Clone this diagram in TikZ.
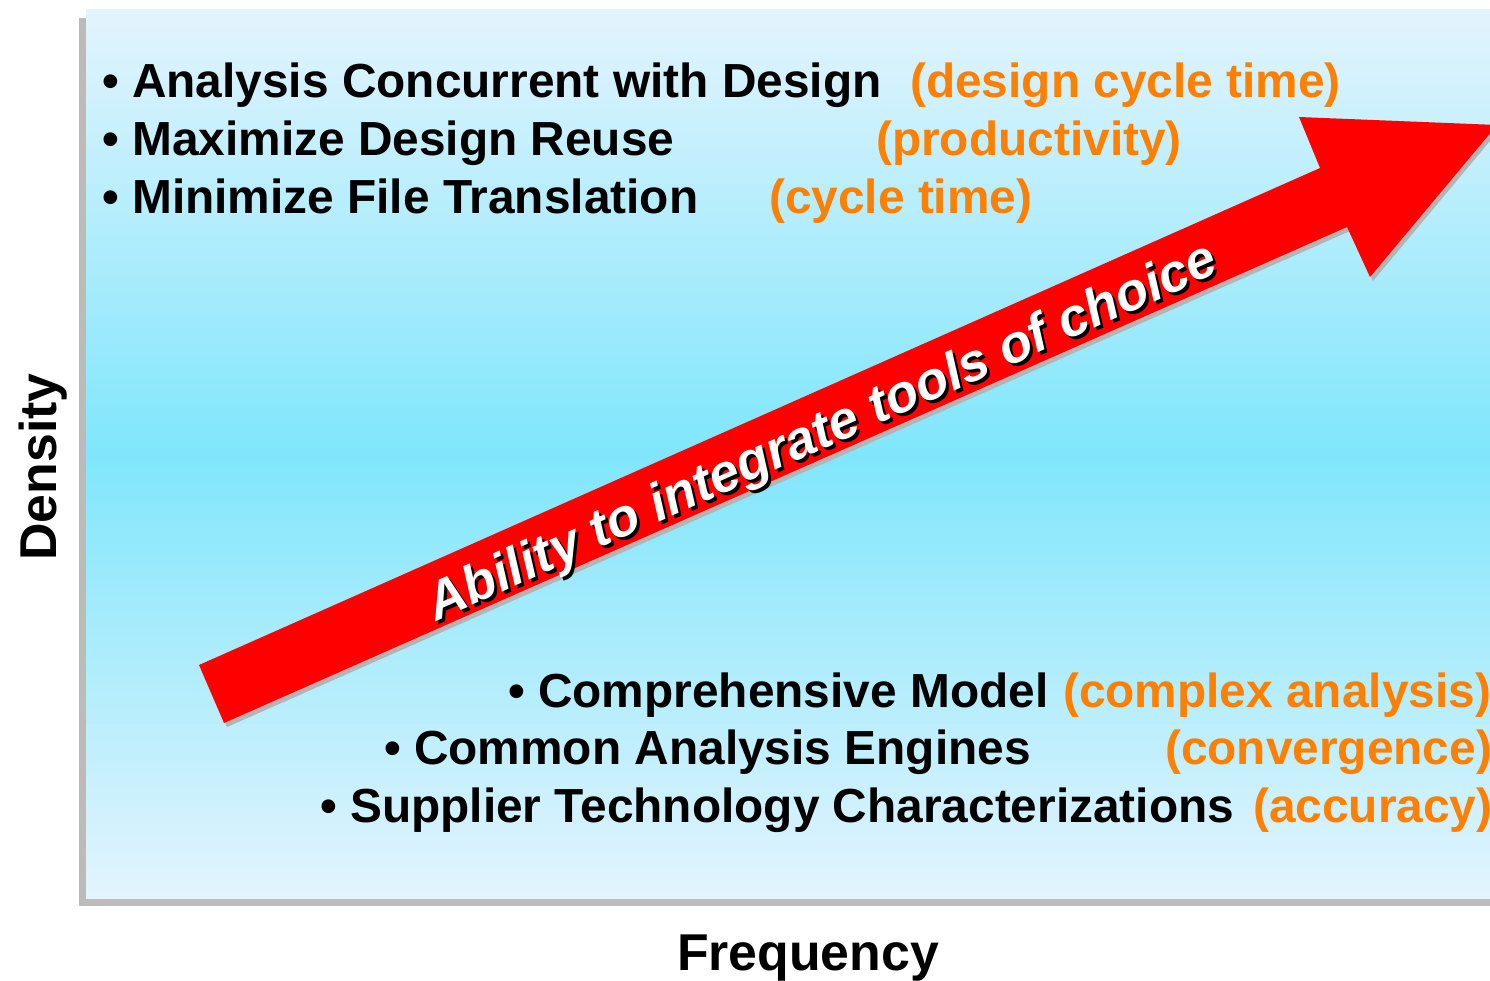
\documentclass[tikz,border=0pt]{standalone}
\usepackage{fontspec}
\setmainfont{Liberation Sans}
\usetikzlibrary{calc}

\definecolor{panelpale}{RGB}{227,244,253}
\definecolor{panelcyan}{RGB}{128,230,252}
\definecolor{framegray}{RGB}{187,187,187}
\definecolor{noteorange}{RGB}{255,128,0}
\definecolor{arrowred}{RGB}{255,0,0}
\definecolor{arrowshade}{RGB}{180,180,180}

\tikzset{
	item/.style={anchor=base west, inner sep=0pt, font=\fontsize{48}{58}\selectfont\bfseries},
	note/.style={item, text=noteorange},
	axislabel/.style={inner sep=0pt, font=\fontsize{52}{60}\selectfont\bfseries},
	banner/.style={inner sep=0pt, rotate=24, font=\fontsize{53.5}{60}\selectfont\bfseries\itshape},
}

\begin{document}
\begin{tikzpicture}[x=1bp, y=-1bp]
		%%%%% START %%%%%
		\useasboundingbox (0, 0) rectangle (1490, 980);
		
		% panel with its grey edge
		\fill[framegray] (79, 18) rectangle (1500, 906);
		% pale at top and bottom, cyan in the middle, in thin bands
		\foreach \i in {0,...,177} {
			\pgfmathsetmacro{\ya}{9 + 5*\i}
			\pgfmathsetmacro{\yb}{min(899, \ya + 5.6)}
			\pgfmathsetmacro{\pale}{min(100, abs(\ya + 2.5 - 454)/4.45)}
			\fill[panelpale!\pale!panelcyan] (86, \ya) rectangle (1500, \yb);
		}
		
		% big arrow, shadow first
		\fill[arrowshade, shift={(3, 4)}] (199, 665) -- (1320, 168) -- (1299, 117) -- (1497, 125) -- (1370, 277) -- (1347, 227) -- (224, 723) -- cycle;
		\fill[arrowred] (199, 665) -- (1320, 168) -- (1299, 117) -- (1497, 125) -- (1370, 277) -- (1347, 227) -- (224, 723) -- cycle;
		
		\node[banner, text=black] (bannershadow) at (826, 437) {Ability to integrate tools of choice};
		\node[banner, text=white] (banner) at (823, 434) {Ability to integrate tools of choice};
		
		% top list
		\node[item] (analysis) at (102, 97) {• Analysis Concurrent with Design};
		\node[note] (designcycle) at (910, 97) {(design cycle time)};
		\node[item] (reuse) at (102, 155) {• Maximize Design Reuse};
		\node[note] (productivity) at (876, 155) {(productivity)};
		\node[item] (translation) at (102, 213) {• Minimize File Translation};
		\node[note] (cycle) at (769, 213) {(cycle time)};
		
		% bottom list
		\node[item] (model) at (508, 707) {• Comprehensive Model};
		\node[note] (complex) at (1063, 707) {(complex analysis)};
		\node[item] (engines) at (384, 764) {• Common Analysis Engines};
		\node[note] (convergence) at (1165, 764) {(convergence)};
		\node[item] (supplier) at (320, 822) {• Supplier Technology Characterizations};
		\node[note] (accuracy) at (1253, 822) {(accuracy)};
		
		% axes
		\node[axislabel, rotate=90, anchor=base] (density) at (56, 467) {Density};
		\node[axislabel, anchor=base] (frequency) at (808, 970) {Frequency};
		%%%%% END %%%%%
\end{tikzpicture}
\end{document}
